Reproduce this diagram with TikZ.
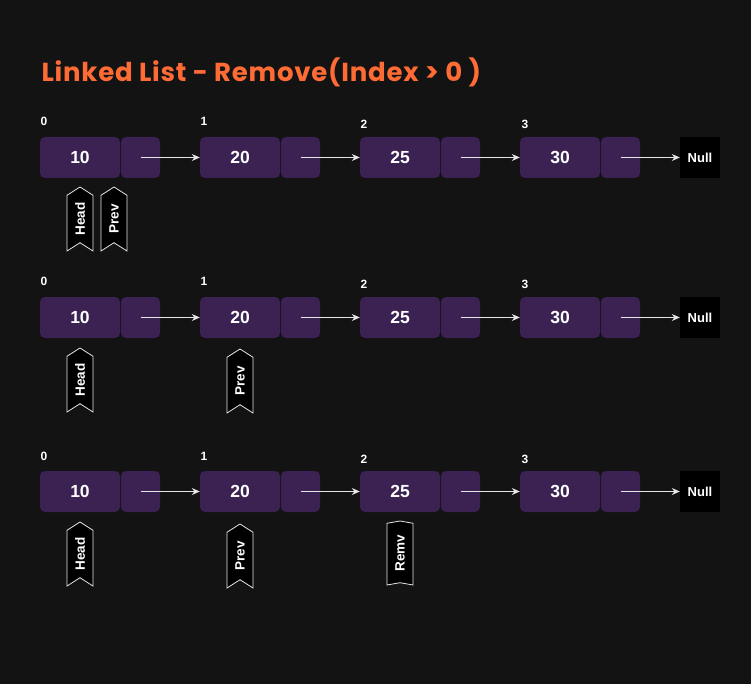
\documentclass[tikz,border=0pt]{standalone}
\usepackage{fontspec}
\setmainfont{Liberation Sans}
\newfontfamily\titlefont{Poppins}[LetterSpace=3]
\usetikzlibrary{arrows,arrows.meta,shapes}
\usetikzlibrary{shapes.symbols}
\definecolor{bgdark}{HTML}{131313}
\definecolor{cellpurple}{HTML}{3B2253}
\definecolor{titleorange}{HTML}{FF6B35}
\definecolor{linkgray}{HTML}{E6E6E6}
\tikzstyle{datacell}=[rectangle,rounded corners=5pt,fill=cellpurple,minimum width=80pt,minimum height=41pt,inner sep=0pt,text=white,font=\fontsize{17.5}{17.5}\selectfont\bfseries]
\tikzstyle{nextcell}=[rectangle,rounded corners=5pt,fill=cellpurple,minimum width=39pt,minimum height=41pt,inner sep=0pt]
\tikzstyle{nullcell}=[rectangle,fill=black,minimum width=40pt,minimum height=41pt,inner sep=0pt,text=white,font=\fontsize{13}{13}\selectfont\bfseries]
\tikzstyle{pointer}=[signal,signal to=east,signal from=west,rotate=90,draw=linkgray,fill=black,line width=0.8pt,text=white,minimum width=64pt,minimum height=26pt,inner sep=1pt,signal pointer angle=115,font=\fontsize{13.5}{13.5}\selectfont\bfseries]
\tikzstyle{link} = [draw,-{Stealth[length=8pt,width=7pt]},linkgray,line width=0.9pt]
\tikzstyle{index} = [text=white,font=\fontsize{12}{12}\selectfont\bfseries]

\begin{document}
\begin{tikzpicture}[x=1pt,y=-1pt]

   \fill[bgdark] (0,0) rectangle (751,684);

   \node[anchor=west,text=titleorange,font=\titlefont\fontsize{26}{26}\selectfont\bfseries] (title) at (38,72) {Linked List - Remove(Index > 0 )};

    % three snapshots of the list
    \foreach \row/\y in {1/157.5,2/317.5,3/491.5} {
        \foreach \i/\x/\val in {1/40/10,2/200/20,3/360/25,4/520/30} {
            \node[datacell] (d\row\i) at (\x+40,\y) {\val};
            \node[nextcell] (n\row\i) at (\x+100.5,\y) {};
        }
        \node[nullcell] (null\row) at (700,\y) {Null};
    }

    % indices above the cells
    \foreach \row/\y in {1/121,2/281,3/456} {
        \foreach \i/\x/\dy/\label in {1/44/0/0,2/204/0/1,3/364/3/2,4/525/3/3}
            \node[index] (idx\row\i) at (\x,\y+\dy) {\label};
    }

    % Connect cells with links
    \foreach \row in {1,2,3} {
        \foreach \source/\dest in {1/2,2/3,3/4}
            \draw[link] (n\row\source.center) -- (d\row\dest.west);
        \draw[link] (n\row4.center) -- (null\row.west);
    }

    % pointers below the cells
    \foreach \pos/\name/\label in {{(80,219)/head1/Head},{(114,219)/prev1/Prev},{(80,380)/head2/Head},{(240,381)/prev2/Prev},{(80,554)/head3/Head},{(240,556)/prev3/Prev}}
        \node[pointer] (\name) at \pos {\label};
    \node[pointer,signal pointer angle=160] (remv3) at (400,553) {Remv};

\end{tikzpicture}
\end{document}
